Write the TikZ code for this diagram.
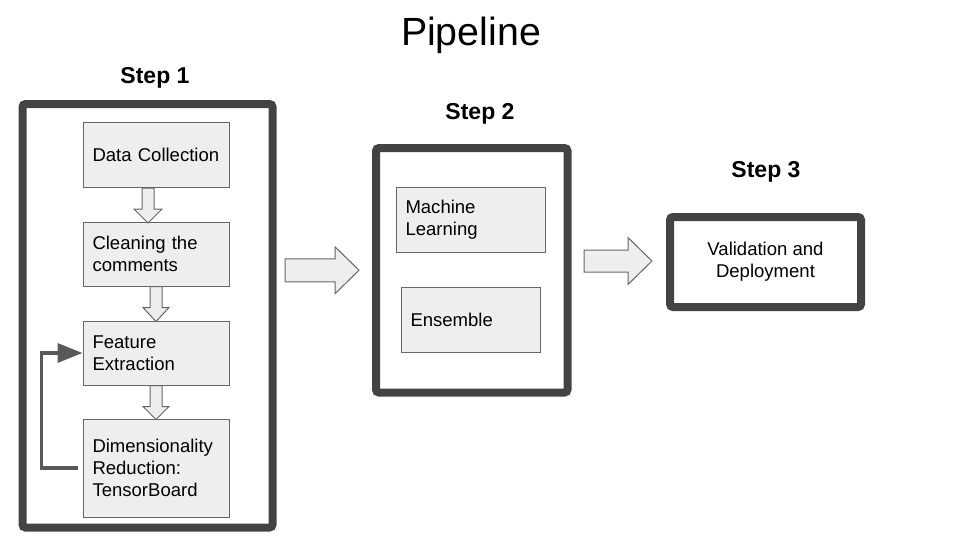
\documentclass[tikz,border=0pt]{standalone}
\usepackage{fontspec}
\setmainfont{Liberation Sans}
\usepackage{xcolor}
\usepackage{tikz}
\usetikzlibrary{positioning,calc,arrows.meta}
\definecolor{frame}{HTML}{434343}
\definecolor{boxfill}{HTML}{EEEEEE}
\definecolor{boxline}{HTML}{666666}
\definecolor{loopline}{HTML}{595959}

\begin{document}
\begin{tikzpicture}[x=0.75pt,y=-0.75pt,
  stage/.style={draw=frame, line width=6pt, rounded corners=2.25pt, inner sep=0pt},
  task/.style={draw=boxline, fill=boxfill, line width=0.75pt, inner xsep=7.125pt, inner ysep=0pt, align=left, font=\fontsize{13.9}{16.5}\selectfont},
  stagelabel/.style={font=\bfseries\fontsize{17.25}{20}\selectfont},
  hollow/.style={draw=boxline, fill=boxfill, line width=0.75pt, line join=miter},
  feedback/.style={draw=loopline, line width=2.6pt, -{Triangle[length=18.75pt,width=14.25pt]}}]
\useasboundingbox (0,0) rectangle (960,540);

% title and step labels
\node[font=\fontsize{29.5}{34}\selectfont] (title) at (471,35) {Pipeline};
\node[stagelabel] (l1) at (155,78) {Step 1};
\node[stagelabel] (l2) at (480,114) {Step 2};
\node[stagelabel] (l3) at (766,172) {Step 3};

% step frames
\node[stage, minimum width=187.5pt, minimum height=317.625pt] (s1) at (147.5,315.75) {};
\node[stage, minimum width=143.625pt, minimum height=183.375pt] (s2) at (471.75,270.25) {};
\node[stage, minimum width=143.25pt, minimum height=67.5pt, align=center, font=\fontsize{13.9}{16.5}\selectfont] (s3) at (765.5,262) {Validation and\\Deployment};

% step 1
\node[task, minimum height=48.75pt, text width=95.25pt] (dc) at (156,155) {Data Collection};
\node[task, minimum height=48pt, text width=95.25pt] (cl) at (156,254) {Cleaning the\\comments};
\node[task, minimum height=48pt, text width=95.25pt] (fe) at (156,353) {Feature\\Extraction};
\node[task, minimum height=73.5pt, text width=95.25pt] (dr) at (156,468) {Dimensionality\\Reduction:\\TensorBoard};

% step 2
\node[task, minimum height=48.75pt, text width=97.875pt] (ml) at (470.75,219.5) {Machine\\Learning};
\node[task, minimum height=48.75pt, text width=90.375pt] (en) at (470.75,320) {Ensemble};

% arrows inside step 1
\draw[hollow] ($(dc.south)+(-14,0)$) -- ++(12,0) -- ++(0,21) -- ++(8,0) -- ++(-14,14) -- ++(-14,-14) -- ++(8,0) -- cycle;
\draw[hollow] ($(cl.south)+(-6,0)$) -- ++(12,0) -- ++(0,21) -- ++(7,0) -- ++(-13,14) -- ++(-13,-14) -- ++(7,0) -- cycle;
\draw[hollow] ($(fe.south)+(-6,0)$) -- ++(12,0) -- ++(0,21) -- ++(7,0) -- ++(-13,13) -- ++(-13,-13) -- ++(7,0) -- cycle;
\draw[feedback] ($(dr.west)+(-5,0)$) -| ($(fe.west)+(-41,0)$) -- (fe.west);

% arrows between steps
\draw[hollow] ($(s1.east |- s2.center)+(8.5,-11.5)$) -- ++(50,0) -- ++(0,-12) -- ++(24,23.5) -- ++(-24,23.5) -- ++(0,-12) -- ++(-50,0) -- cycle;
\draw[hollow] ($(s2.east |- s3.center)+(12.5,-12)$) -- ++(44,0) -- ++(0,-12.5) -- ++(24,23.5) -- ++(-24,23.5) -- ++(0,-12.5) -- ++(-44,0) -- cycle;
\end{tikzpicture}
\end{document}
